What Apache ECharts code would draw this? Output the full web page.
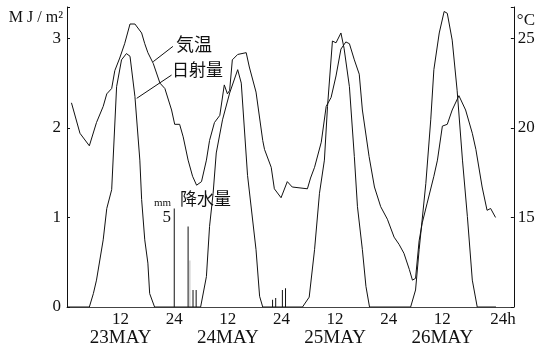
<!DOCTYPE html>
<html>
<head>
<meta charset="utf-8">
<script src="https://cdn.jsdelivr.net/npm/echarts@6/dist/echarts.min.js"></script>
<style>
html, body { margin: 0; padding: 0; background: #fff; }
#chart { width: 538px; height: 350px; }
</style>
</head>
<body>
<div id="chart"></div>
<script>
// hours counted from 23 MAY 0h
var dayNames = ['23MAY', '24MAY', '25MAY', '26MAY'];

// 気温 (°C)
var temp = [
	[1.0, 21.4], [2.9, 19.7], [5.0, 19.0], [6.6, 20.3], [8.1, 21.2], [8.9, 21.9], [10.0, 22.2],
	[10.7, 23.2], [11.8, 23.9], [12.9, 24.7], [14.1, 25.8], [15.2, 25.8], [16.7, 25.3], [17.4, 24.7],
	[18.1, 24.2], [19.3, 23.6], [20.8, 22.5], [21.9, 22.2], [23.4, 21.0], [24.1, 20.2], [25.2, 20.2],
	[26.0, 19.5], [27.1, 18.2], [28.1, 17.3], [29.0, 16.8], [30.1, 17.0], [31.2, 18.2], [31.9, 19.3],
	[33.0, 20.3], [34.2, 20.7], [35.2, 22.4], [35.9, 21.9], [36.4, 22.1], [37.0, 23.8], [38.2, 24.1],
	[40.1, 24.2], [40.8, 23.4], [42.3, 22.0], [43.8, 19.3], [44.2, 18.8], [45.7, 17.8], [46.4, 16.6],
	[47.9, 16.1], [49.3, 17.0], [50.4, 16.7], [53.8, 16.6], [54.5, 17.2], [55.4, 17.8], [56.9, 19.2],
	[58.0, 21.2], [59.1, 21.7], [60.2, 22.9], [61.3, 24.4], [62.4, 24.8], [63.2, 24.7], [64.3, 23.8],
	[65.4, 23.0], [66.1, 21.0], [67.6, 18.4], [68.8, 16.7], [70.2, 15.6], [71.7, 14.9], [73.2, 13.9],
	[74.3, 13.5], [75.4, 13.0], [76.6, 12.1], [77.3, 11.5], [78.0, 11.6], [78.8, 13.7], [79.5, 14.7],
	[80.6, 15.8], [82.1, 17.3], [82.9, 18.2], [84.0, 20.1], [85.1, 20.2], [86.2, 21.0], [87.7, 21.8],
	[89.2, 21.0], [90.7, 19.7], [91.5, 18.8], [92.9, 16.7], [94.0, 15.4], [94.8, 15.5], [95.9, 15.0]
];

// 日射量 (MJ/m2)
var solar = [
	[0, 0], [5.0, 0], [5.9, 0.15], [6.6, 0.30], [8.1, 0.75], [8.9, 1.10], [10.0, 1.31], [11.1, 2.46],
	[12.2, 2.76], [13.3, 2.83], [14.1, 2.80], [15.2, 2.35], [16.3, 1.64], [16.7, 1.20], [17.4, 0.75],
	[18.1, 0.49], [18.5, 0.15], [19.6, 0],
	[29.9, 0], [31.2, 0.34], [31.9, 0.90], [32.7, 1.27], [33.4, 1.72], [34.8, 2.09], [36.4, 2.39],
	[38.2, 2.65], [39.0, 2.50], [40.4, 1.47], [42.3, 0.64], [43.1, 0.12], [43.8, 0],
	[52.7, 0], [54.2, 0.11], [55.4, 0.64], [56.5, 1.27], [57.6, 1.64], [58.3, 2.24], [59.4, 2.97],
	[60.2, 2.95], [61.3, 3.06], [62.0, 2.89], [63.2, 2.46], [64.3, 1.68], [65.0, 1.12], [66.1, 0.64],
	[66.9, 0.23], [67.7, 0],
	[76.9, 0], [78.0, 0.19], [78.8, 0.64], [80.3, 1.38], [81.4, 2.09], [82.1, 2.65], [83.3, 3.06],
	[84.4, 3.30], [85.1, 3.28], [86.2, 2.98], [87.3, 2.42], [88.5, 1.64], [89.6, 1.01], [90.7, 0.30],
	[91.8, 0], [96, 0]
];

// 降水量 (mm)
var rainHour = [24.0, 27.1, 27.5, 28.2, 28.9, 46.0, 46.7, 48.2, 48.9];
var rainMm = [5.5, 4.5, 2.6, 0.95, 0.95, 0.4, 0.5, 0.95, 1.05];

// label pointers [from, to] in (hour, MJ/m2)
var tempPointer = [[23.7, 2.91], [19.3, 2.74]];
var solarPointer = [[23.4, 2.59], [15.6, 2.33]];

var serif = "'Liberation Serif', 'Noto Sans CJK JP', serif";
var jp = "'Noto Sans CJK JP', sans-serif";
var ink = '#111';

var rainData = [];
for (var i = 0; i < rainHour.length; i++) {
	rainData.push({
		value: [rainHour[i], rainMm[i]],
		itemStyle: { color: i == 2 ? '#bbb' : ink }
	});
}

function pointer(p) {
	return [{ coord: p[0] }, { coord: p[1] }];
}

var option = {
	backgroundColor: '#fff',
	animation: false,
	grid: { left: 67, right: 23, top: 7, bottom: 43 },
	xAxis: {
		type: 'value', min: 0, max: 100, interval: 12,
		splitLine: { show: false },
		axisLine: { lineStyle: { color: '#444', width: 1 } },
		axisTick: { show: false },
		axisLabel: {
			margin: 3, color: ink, fontFamily: serif, fontSize: 17, lineHeight: 19,
			showMaxLabel: false,
			formatter: function (v) {
				if (v % 24 == 12) return '12\n{d|' + dayNames[(v - 12) / 24] + '}';
				if (v == 96) return '{h|24h}';
				if (v > 0 && v % 24 == 0) return '24';
				return '';
			},
			rich: {
				d: { fontFamily: serif, fontSize: 19, lineHeight: 19, color: ink },
				h: { fontFamily: serif, fontSize: 17, lineHeight: 19, color: ink, padding: [0, 0, 0, 14] }
			}
		}
	},
	yAxis: [{
		type: 'value', min: 0, max: 3.35, interval: 1, position: 'left',
		name: 'M J / m²', nameLocation: 'end', nameGap: -11,
		nameTextStyle: { color: ink, fontFamily: serif, fontSize: 16, align: 'right', verticalAlign: 'middle', padding: [0, 4, 0, 0] },
		splitLine: { show: false },
		axisLine: { show: true, lineStyle: { color: ink, width: 1 } },
		axisTick: { inside: true, length: 3, lineStyle: { color: ink } },
		axisLabel: {
			margin: 6, color: ink, fontFamily: serif, fontSize: 17,
			formatter: function (v) { return v % 1 == 0 ? v : ''; }
		}
	}, {
		type: 'value', min: 10, max: 26.75, interval: 5, position: 'right',
		name: '°C', nameLocation: 'end', nameGap: -14,
		nameTextStyle: { color: ink, fontFamily: serif, fontSize: 17, align: 'left', verticalAlign: 'middle', padding: [0, 0, 0, 3] },
		splitLine: { show: false },
		axisLine: { show: true, lineStyle: { color: ink, width: 1 } },
		axisTick: { inside: true, length: 3, lineStyle: { color: ink } },
		axisLabel: {
			margin: 4, color: ink, fontFamily: serif, fontSize: 17,
			formatter: function (v) { return v % 5 == 0 && v > 10 ? v : ''; }
		}
	}, {
		type: 'value', min: 0, max: 16.75, interval: 5, position: 'left', offset: -107,
		splitLine: { show: false },
		axisLine: { show: false },
		axisTick: { show: false },
		axisLabel: {
			margin: 3, color: ink, fontFamily: serif, fontSize: 17,
			padding: [0, 0, 12, 0],
			formatter: function (v) { return v == 5 ? '{m|mm}\n{n|5}' : ''; },
			rich: {
				m: { fontFamily: serif, fontSize: 11, lineHeight: 12, color: ink, align: 'right' },
				n: { fontFamily: serif, fontSize: 17, lineHeight: 16, color: ink, align: 'right' }
			}
		}
	}],
	series: [{
		name: '気温', type: 'line', yAxisIndex: 1, data: temp,
		symbol: 'none', lineStyle: { color: ink, width: 1 }
	}, {
		name: '日射量', type: 'line', yAxisIndex: 0, data: solar,
		symbol: 'none', lineStyle: { color: ink, width: 1 },
		markLine: {
			silent: true, symbol: 'none', label: { show: false },
			lineStyle: { color: ink, width: 1, type: 'solid' },
			data: [pointer(tempPointer), pointer(solarPointer)]
		}
	}, {
		name: '降水量', type: 'bar', yAxisIndex: 2, data: rainData,
		barWidth: 1, barGap: '-100%'
	}],
	graphic: [
		{ type: 'text', left: 176, top: 35, style: { text: '気温', font: '18px ' + jp, fill: ink } },
		{ type: 'text', left: 172, top: 61, style: { text: '日射量', font: '17px ' + jp, fill: ink } },
		{ type: 'text', left: 180, top: 190, style: { text: '降水量', font: '17px ' + jp, fill: ink } }
	]
};

var myChart = echarts.init(document.getElementById('chart'));
myChart.setOption(option);
</script>
</body>
</html>
